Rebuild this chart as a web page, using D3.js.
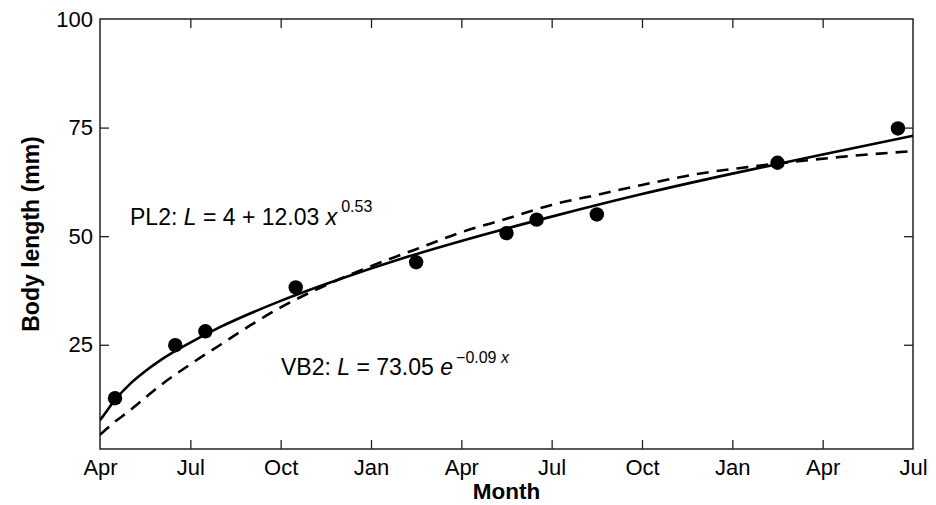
<!DOCTYPE html>
<html>
<head>
<meta charset="utf-8">
<script src="https://cdn.jsdelivr.net/npm/d3@7"></script>
<style>
  body { margin: 0; background: #fff; }
  text { font-family: "Liberation Sans", Arial, Helvetica, sans-serif; fill: #000; }
</style>
</head>
<body>
<script>
// Month tick labels (every 3 months from April)
var monthTicks = [0, 3, 6, 9, 12, 15, 18, 21, 24, 27];
var monthLabels = ["Apr", "Jul", "Oct", "Jan", "Apr", "Jul", "Oct", "Jan", "Apr", "Jul"];
var lengthTicks = [25, 50, 75, 100];

// Observed body lengths
var obsMonth  = [0.5, 2.5, 3.5, 6.5, 10.5, 13.5, 14.5, 16.5, 22.5, 26.5];
var obsLength = [12.7, 24.9, 28.1, 38.2, 44.0, 50.7, 53.8, 55.0, 66.9, 74.8];

// PL2 fitted curve (solid)
var pl2Month  = [0, 0.25, 0.5, 1, 1.5, 2, 3, 4, 6, 8, 10, 12, 15, 18, 21, 24, 27];
var pl2Length = [7.6, 10.0, 12.3, 16.0, 18.9, 21.4, 25.5, 29.1, 35.1, 40.2, 44.8, 48.9, 54.5, 59.7, 64.4, 68.8, 73.1];

// VB2 fitted curve (dashed)
var vb2Month  = [0, 0.5, 1, 1.5, 2, 3, 4, 5, 6, 7.5, 9, 10.5, 12, 13.5, 15, 16.5, 18, 20, 21.5, 23, 25, 27];
var vb2Length = [4.3, 7.3, 9.9, 12.8, 15.6, 20.5, 25.0, 29.5, 33.6, 38.7, 43.1, 47.0, 50.9, 54.0, 57.2, 59.5, 61.8, 64.5, 65.9, 67.1, 68.5, 69.6];

//Width and height
var w = 936;
var h = 505;
var plotLeft = 100, plotRight = 913, plotTop = 19, plotBottom = 449;

var svg = d3.select("body")
            .append("svg")
            .attr("width", w)
            .attr("height", h);

var x = d3.scaleLinear().domain([0, 27]).range([plotLeft, plotRight]);
var y = d3.scaleLinear().domain([1, 100]).range([plotBottom, plotTop]);

svg.append("clipPath").attr("id", "plotclip")
   .append("rect")
   .attr("x", plotLeft).attr("y", plotTop)
   .attr("width", plotRight - plotLeft).attr("height", plotBottom - plotTop);

var axisColor = "#222";
var tickLen = 9;
var fontSize = 22;

//Axes (ticks drawn inward on all four sides, MATLAB style)
var xBottom = svg.append("g")
    .attr("transform", "translate(0," + plotBottom + ")")
    .call(d3.axisBottom(x).tickValues(monthTicks)
            .tickSize(-tickLen).tickPadding(10)
            .tickFormat(function(d, i) { return monthLabels[i]; }));

var xTop = svg.append("g")
    .attr("transform", "translate(0," + plotTop + ")")
    .call(d3.axisTop(x).tickValues(monthTicks).tickSize(-tickLen).tickFormat(""));

var yLeft = svg.append("g")
    .attr("transform", "translate(" + plotLeft + ",0)")
    .call(d3.axisLeft(y).tickValues(lengthTicks).tickSize(-tickLen).tickPadding(7));

var yRight = svg.append("g")
    .attr("transform", "translate(" + plotRight + ",0)")
    .call(d3.axisRight(y).tickValues(lengthTicks).tickSize(-tickLen).tickFormat(""));

[xBottom, xTop, yLeft, yRight].forEach(function(g) {
    g.select(".domain").remove();
    g.selectAll(".tick line").attr("stroke", axisColor).attr("stroke-width", 1.3);
    g.selectAll(".tick text")
     .attr("font-size", fontSize)
     .attr("fill", "#000")
     .style("font-family", "'Liberation Sans', Arial, sans-serif");
});

// drop tick marks that sit on the box corners
xBottom.selectAll(".tick").filter(function(d) { return d === 0 || d === 27; }).select("line").remove();
xTop.selectAll(".tick").filter(function(d) { return d === 0 || d === 27; }).select("line").remove();
yLeft.selectAll(".tick").filter(function(d) { return d === 100; }).select("line").remove();
yRight.selectAll(".tick").filter(function(d) { return d === 100; }).select("line").remove();

//Box
svg.append("rect")
   .attr("x", plotLeft).attr("y", plotTop)
   .attr("width", plotRight - plotLeft).attr("height", plotBottom - plotTop)
   .attr("fill", "none")
   .attr("stroke", axisColor)
   .attr("stroke-width", 1.5);

//Curves
var line = d3.line()
    .x(function(d) { return x(d[0]); })
    .y(function(d) { return y(d[1]); })
    .curve(d3.curveMonotoneX);

var plot = svg.append("g").attr("clip-path", "url(#plotclip)");

plot.append("path")
    .datum(d3.zip(vb2Month, vb2Length))
    .attr("d", line)
    .attr("fill", "none")
    .attr("stroke", "#000")
    .attr("stroke-width", 2.6)
    .attr("stroke-dasharray", "12,8");

plot.append("path")
    .datum(d3.zip(pl2Month, pl2Length))
    .attr("d", line)
    .attr("fill", "none")
    .attr("stroke", "#000")
    .attr("stroke-width", 2.6);

//Observed points
svg.selectAll("circle.obs")
   .data(d3.zip(obsMonth, obsLength))
   .enter()
   .append("circle")
   .attr("class", "obs")
   .attr("cx", function(d) { return x(d[0]); })
   .attr("cy", function(d) { return y(d[1]); })
   .attr("r", 7.2)
   .attr("fill", "#000");

//Axis titles
svg.append("text")
   .attr("x", (plotLeft + plotRight) / 2)
   .attr("y", 499)
   .attr("text-anchor", "middle")
   .attr("font-size", 22.5)
   .attr("font-weight", "bold")
   .text("Month");

svg.append("text")
   .attr("transform", "translate(39," + ((plotTop + plotBottom) / 2) + ") rotate(-90)")
   .attr("text-anchor", "middle")
   .attr("font-size", 23)
   .attr("font-weight", "bold")
   .text("Body length (mm)");

//Equations
var pl2 = svg.append("text")
   .attr("x", 130)
   .attr("y", 225)
   .attr("font-size", 23);
pl2.append("tspan").text("PL2: ");
pl2.append("tspan").attr("font-style", "italic").text("L");
pl2.append("tspan").text(" = 4 + 12.03 ");
pl2.append("tspan").attr("font-style", "italic").text("x");
pl2.append("tspan").attr("font-size", 16).attr("dy", -13).attr("dx", 4).text("0.53");

var vb2 = svg.append("text")
   .attr("x", 281)
   .attr("y", 375)
   .attr("font-size", 23);
vb2.append("tspan").text("VB2: ");
vb2.append("tspan").attr("font-style", "italic").text("L");
vb2.append("tspan").text(" = 73.05 ");
vb2.append("tspan").attr("font-style", "italic").text("e");
vb2.append("tspan").attr("font-size", 16).attr("dy", -12).attr("dx", 3).text("\u22120.09 ");
vb2.append("tspan").attr("font-size", 16).attr("font-style", "italic").text("x");
</script>
</body>
</html>
